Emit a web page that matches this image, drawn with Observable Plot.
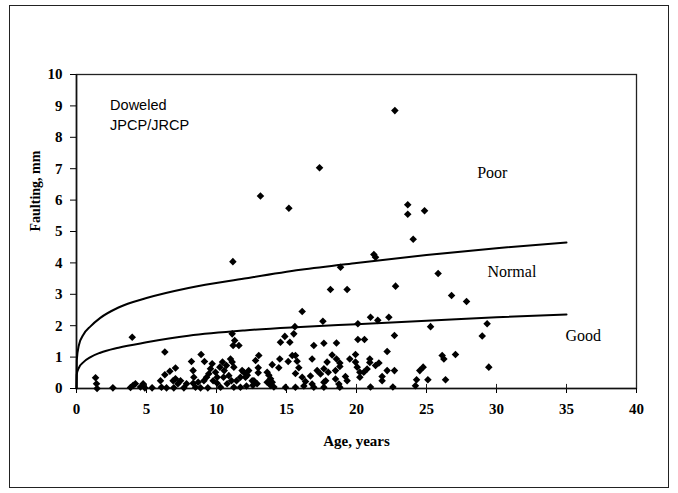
<!DOCTYPE html>
<html>
<head>
<meta charset="utf-8">
<script src="https://cdn.jsdelivr.net/npm/d3@7"></script>
<script src="https://cdn.jsdelivr.net/npm/@observablehq/plot@0.6"></script>
<style>
  html, body { margin: 0; padding: 0; background: #fff; }
  #wrap { position: relative; width: 678px; height: 493px; overflow: hidden; }
  #border { position: absolute; left: 9px; top: 5px; width: 660px; height: 483px; border: 1.5px solid #222; box-sizing: border-box; }
  #chart { position: absolute; left: 0; top: 0; }
</style>
</head>
<body>
<div id="wrap"><div id="border"></div><div id="chart"></div></div>
<script>
// Age (years) and faulting (mm) of the observed sections
const ages = [
  3.98, 1.36, 1.43, 1.47, 2.6, 3.86, 4.05, 4.21, 4.57, 4.76, 4.88, 5.4, 6.0, 6.07, 6.31, 6.31, 6.67, 6.43, 7.07, 6.9,
  7.07, 6.95, 7.24, 7.43, 7.67, 7.86, 8.21, 8.33, 8.38, 8.33, 8.5, 8.69, 8.9, 9.14, 8.86, 9.1, 9.29, 9.45, 9.38, 9.57,
  9.69, 9.76, 9.93, 10.05, 10.05, 10.24, 10.29, 10.43, 10.5, 10.55, 10.71, 10.76, 10.88, 11.12, 11.3, 11.19, 11.6, 11.0, 11.12, 11.24,
  11.07, 11.43, 11.24, 11.71, 11.83, 11.95, 12.07, 12.14, 11.71, 12.79, 13.02, 12.67, 12.9, 16.12, 15.6, 17.6, 14.88, 15.24, 15.52, 14.57,
  16.95, 17.67, 16.83, 14.52, 15.12, 15.41, 15.64, 15.76, 15.88, 15.64, 12.98, 12.98, 13.98, 14.45, 13.62, 13.74, 13.86, 13.98, 13.86, 14.1,
  13.62, 14.93, 15.64, 16.12, 16.36, 16.24, 16.71, 16.83, 16.95, 17.19, 17.43, 17.67, 17.67, 17.67, 12.3, 12.2, 12.55, 12.6, 20.1, 21.0,
  21.52, 22.31, 25.29, 18.57, 20.1, 20.57, 22.71, 22.19, 18.26, 18.57, 18.81, 18.81, 17.9, 17.98, 17.8, 18.5, 18.5, 18.74, 18.81, 19.52,
  19.21, 19.33, 19.93, 19.93, 20.05, 20.24, 20.24, 20.52, 20.76, 20.95, 20.95, 21.36, 21.6, 21.0, 21.83, 21.83, 22.19, 22.71, 22.6, 24.29,
  24.21, 24.52, 24.76, 25.1, 26.12, 26.24, 27.07, 26.36, 28.98, 29.33, 29.45, 26.79, 27.86, 22.74, 23.66, 23.66, 24.86, 24.05, 21.24, 21.36,
  18.86, 25.83, 18.14, 19.33, 22.79, 17.36, 13.14, 15.17, 11.17
];
const faulting = [
  1.63, 0.34, 0.15, 0.0, 0.02, 0.03, 0.1, 0.15, 0.05, 0.15, 0.02, 0.02, 0.25, 0.04, 1.16, 0.44, 0.55, 0.02, 0.65, 0.25,
  0.31, 0.02, 0.15, 0.25, 0.02, 0.15, 0.86, 0.57, 0.36, 0.17, 0.04, 0.2, 1.08, 0.86, 0.02, 0.25, 0.36, 0.47, 0.02, 0.63,
  0.79, 0.25, 0.52, 0.36, 0.17, 0.68, 0.04, 0.84, 0.36, 0.57, 0.73, 0.15, 0.41, 1.74, 1.53, 1.37, 1.37, 0.94, 0.84, 0.68,
  0.25, 0.25, 0.04, 0.36, 0.57, 0.52, 0.36, 0.08, 0.04, 0.89, 1.05, 0.25, 0.15, 2.45, 1.97, 2.14, 1.66, 1.47, 1.74, 1.47,
  1.37, 1.44, 0.94, 0.94, 0.86, 1.05, 1.05, 0.87, 0.66, 0.48, 0.66, 0.5, 0.76, 0.66, 0.52, 0.42, 0.31, 0.2, 0.1, 0.05,
  0.2, 0.04, 0.04, 0.36, 0.22, 0.08, 0.4, 0.14, 0.04, 0.57, 0.46, 0.63, 0.2, 0.04, 0.57, 0.42, 0.25, 0.1, 2.06, 2.27,
  2.17, 2.27, 1.97, 1.45, 1.56, 1.56, 1.69, 1.18, 1.07, 0.94, 0.81, 0.7, 0.84, 0.52, 0.25, 0.57, 0.3, 0.14, 0.04, 0.94,
  0.38, 0.25, 1.08, 0.84, 0.68, 0.52, 0.36, 0.52, 0.62, 0.94, 0.83, 0.73, 0.81, 0.05, 0.38, 0.25, 0.57, 0.57, 0.05, 0.28,
  0.09, 0.57, 0.68, 0.28, 1.05, 0.94, 1.08, 0.28, 1.67, 2.06, 0.68, 2.96, 2.77, 8.85, 5.85, 5.55, 5.66, 4.75, 4.27, 4.18,
  3.86, 3.66, 3.15, 3.15, 3.26, 7.03, 6.13, 5.74, 4.04
];

// Boundary curves
const curveAge = [0, 0.02, 0.17, 0.5, 1, 1.7, 3, 5, 8, 12, 16, 20, 25, 30, 35];
const poorLimit = [0, 0.9, 1.38, 1.72, 1.98, 2.25, 2.58, 2.88, 3.2, 3.5, 3.78, 4.0, 4.25, 4.47, 4.65];
const goodLimit = [0, 0.45, 0.66, 0.84, 1.0, 1.14, 1.3, 1.47, 1.68, 1.85, 1.96, 2.05, 2.16, 2.27, 2.36];

const xTicks = [0, 5, 10, 15, 20, 25, 30, 35, 40];
const yTicks = [0, 1, 2, 3, 4, 5, 6, 7, 8, 9, 10];

const points = ages.map((a, i) => ({age: a, f: faulting[i]}));
const upper = curveAge.map((a, i) => ({age: a, f: poorLimit[i]}));
const lower = curveAge.map((a, i) => ({age: a, f: goodLimit[i]}));

const zones = [
  {age: 29.7, f: 6.88, t: "Poor"},
  {age: 31.1, f: 3.73, t: "Normal"},
  {age: 36.2, f: 1.69, t: "Good"}
];

const chart = Plot.plot({
  width: 678,
  height: 493,
  marginLeft: 76,
  marginRight: 42,
  marginTop: 74,
  marginBottom: 105,
  style: {background: "transparent", color: "#000", fontFamily: "'Liberation Serif', serif"},
  x: {domain: [0, 40]},
  y: {domain: [0, 10]},
  marks: [
    Plot.frame({stroke: "#222", strokeWidth: 1.3}),
    Plot.axisX({ticks: xTicks, tickSize: 5, tickPadding: 10, label: null, fontSize: 15, fontWeight: "bold", tickFormat: d => d}),
    Plot.axisY({ticks: yTicks, tickSize: 6, tickPadding: 8, label: null, fontSize: 15, fontWeight: "bold", tickFormat: d => d}),
    Plot.ruleX(xTicks, {x: d => d, y1: 0, y2: 0.13, stroke: "#222"}),
    Plot.ruleX([0], {stroke: "#111", strokeWidth: 1.6}),
    Plot.ruleY([0], {stroke: "#111", strokeWidth: 1.6}),
    Plot.line(upper, {x: "age", y: "f", stroke: "#000", strokeWidth: 2, curve: "monotone-x"}),
    Plot.line(lower, {x: "age", y: "f", stroke: "#000", strokeWidth: 2, curve: "monotone-x"}),
    Plot.dot(points, {x: "age", y: "f", symbol: "diamond2", r: 3.4, fill: "#000", stroke: "none"}),
    Plot.text(zones, {x: "age", y: "f", text: "t", fontSize: 16, fontFamily: "'Liberation Serif', serif", fill: "#000"}),
    Plot.text(["Doweled\nJPCP/JRCP"], {x: 2.4, y: 9.3, text: d => d, textAnchor: "start", lineAnchor: "top", lineHeight: 1.35, fontSize: 14.5, fontFamily: "'Liberation Sans', Arial, sans-serif", fill: "#000"}),
    Plot.text(["Age, years"], {frameAnchor: "bottom", dy: 53, text: d => d, lineAnchor: "middle", fontSize: 15, fontWeight: "bold", fill: "#000"}),
    Plot.text(["Faulting, mm"], {frameAnchor: "left", dx: -41, rotate: -90, text: d => d, lineAnchor: "middle", fontSize: 14, fontWeight: "bold", fill: "#000"})
  ]
});
document.getElementById("chart").appendChild(chart);
</script>
</body>
</html>
